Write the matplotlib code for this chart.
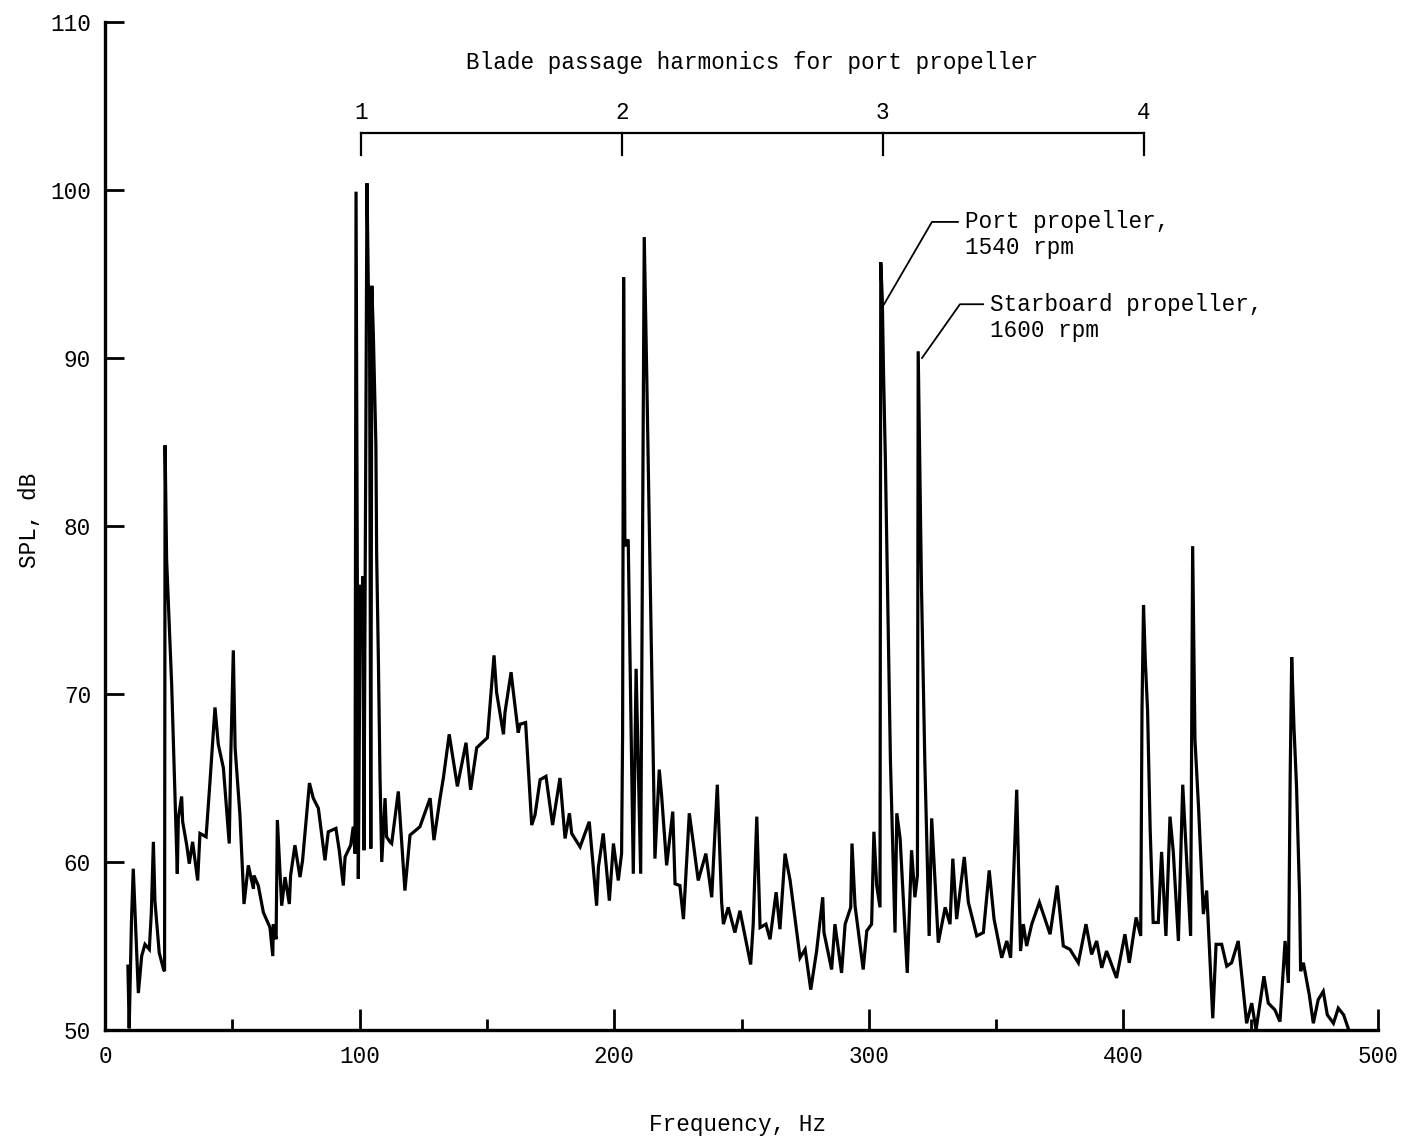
import matplotlib
matplotlib.use("Agg")
import matplotlib.pyplot as plt
from matplotlib.ticker import MultipleLocator

plt.rcParams['font.family'] = ['Liberation Mono', 'DejaVu Sans Mono']

# Frequency (Hz) and SPL (dB)
freq = [9.0, 9.5, 10.4, 11.1, 13.1, 14.4, 15.7, 17.4, 18.2, 19.0, 19.6, 21.3, 23.0, 23.4,
        23.6, 24.2, 26.2, 28.4, 28.8, 30.1, 30.5, 32.1, 33.1, 34.4, 36.4, 37.3, 39.7, 41.2,
        43.2, 44.5, 46.5, 48.8, 49.4, 50.4, 51.1, 53.0, 54.6, 56.3, 58.3, 58.5, 60.2, 62.2,
        64.8, 65.9, 66.1, 67.2, 67.7, 69.4, 70.7, 72.4, 72.9, 74.6, 76.6, 77.6, 80.3, 81.8,
        83.8, 86.4, 87.7, 90.7, 92.0, 93.6, 94.3, 96.5, 97.5, 98.2,
        98.6, 99.5, 100.3, 100.9, 101.3, 101.7, 102.9, 103.4, 103.9, 104.4, 104.8, 105.4,
        106.4, 106.7, 107.4, 108.0, 108.7,
        110.0, 110.6, 111.9, 112.6, 115.2, 117.8, 119.8, 123.7, 127.7, 129.2, 131.6, 132.9,
        135.2, 138.4, 141.8, 143.6, 146.0, 150.2, 152.8, 153.8, 156.5, 157.1, 159.5, 160.4,
        162.3, 163.0, 165.2, 167.6, 168.9, 170.9, 173.2, 175.8, 178.7, 180.7, 182.4, 183.3,
        186.6, 190.2, 193.1, 193.8, 195.7, 198.1, 199.7, 201.6, 202.9,
        203.3, 203.7, 204.2, 205.5, 207.5, 208.6, 210.4, 211.8, 212.8, 216.0, 217.7, 218.6,
        220.6, 223.0, 223.9, 225.8, 227.2, 229.5, 231.1, 233.0, 236.0, 238.3, 240.5, 242.2,
        242.9, 244.8, 247.4, 249.4, 253.6, 254.6, 256.0, 257.3, 259.6, 261.2, 263.6, 265.1,
        267.1, 269.1, 273.0, 275.0, 277.2, 279.5, 281.9, 282.4, 285.4, 286.7, 289.3, 290.7,
        292.9, 293.4, 294.6, 297.8, 299.2, 301.1, 302.0, 303.1, 304.4,
        304.7, 305.3, 305.8, 306.5, 307.5, 308.5, 309.2, 310.3, 311.0, 312.3, 315.1, 316.8,
        318.1, 319.1,
        319.4, 320.0, 320.7, 322.0, 323.7, 324.7, 327.3, 330.0, 331.9, 333.0, 334.5, 337.5,
        339.1, 342.4,
        345.0, 347.3, 349.2, 352.2, 354.2, 355.7, 358.1, 359.6, 360.7, 362.0, 364.0, 367.0,
        371.2, 374.0, 376.4, 379.0, 382.3, 385.3, 387.5, 389.5, 391.5, 393.4, 397.3, 400.6,
        402.3, 405.0, 406.8,
        407.3, 407.9, 408.6, 409.5, 410.5, 411.7, 413.7, 415.0, 416.7, 418.3, 419.6, 421.6,
        423.3, 424.6, 426.4, 427.2, 428.1, 429.5, 431.4, 432.7, 435.1, 436.4, 438.6, 440.6,
        442.5, 445.1, 448.4, 450.4, 452.1, 455.2, 456.9, 459.5, 461.5, 463.5, 464.8,
        465.5, 466.1, 467.0, 468.0, 469.2, 469.6, 470.7, 473.0, 474.6, 476.5, 478.5, 480.1,
        482.5, 484.4, 486.5, 488.3]

spl = [53.8, 50.1, 56.5, 59.6, 52.2, 54.4, 55.1, 54.8, 57.0, 61.2, 57.7, 54.6, 53.6, 53.5,
       84.8, 78.0, 70.5, 59.3, 62.6, 63.9, 62.4, 61.0, 59.9, 61.2, 58.9, 61.7, 61.5, 64.7,
       69.2, 67.0, 65.6, 61.1, 66.3, 72.6, 66.8, 62.8, 57.5, 59.8, 58.4, 59.2, 58.6, 57.0,
       56.1, 54.4, 56.3, 55.4, 62.5, 57.4, 59.1, 57.5, 59.2, 61.0, 59.1, 60.1, 64.7, 63.8,
       63.2, 60.1, 61.8, 62.0, 60.7, 58.6, 60.3, 61.0, 62.1, 60.5,
       99.9, 59.0, 76.5, 73.0, 77.0, 60.7, 100.4, 94.5, 93.0, 60.8, 94.3, 91.4,
       84.8, 78.3, 71.8, 65.2, 60.0,
       63.8, 61.5, 61.2, 61.1, 64.2, 58.3, 61.6, 62.1, 63.8, 61.3, 63.8, 65.0,
       67.6, 64.5, 67.1, 64.3, 66.8, 67.4, 72.3, 70.1, 67.6, 68.9, 71.3, 70.1,
       67.7, 68.2, 68.3, 62.2, 62.8, 64.9, 65.1, 62.2, 65.0, 61.4, 62.9, 61.7,
       60.9, 62.4, 57.4, 59.7, 61.7, 57.7, 61.1, 58.9, 60.5,
       67.6, 94.8, 78.8, 79.2, 59.3, 71.5, 59.3, 97.2, 88.8, 60.2, 65.5, 64.0,
       59.8, 63.0, 58.7, 58.6, 56.6, 62.9, 61.1, 58.9, 60.5, 57.9, 64.6, 57.6,
       56.3, 57.3, 55.8, 57.1, 53.9, 56.3, 62.7, 56.1, 56.3, 55.4, 58.2, 56.0,
       60.5, 58.9, 54.3, 54.8, 52.4, 54.7, 57.9, 55.8, 53.6, 56.3, 53.4, 56.3,
       57.3, 61.1, 57.4, 53.6, 55.9, 56.3, 61.8, 58.6, 57.3,
       95.7, 93.5, 89.0, 84.0, 75.0, 66.0, 62.1, 55.8, 62.9, 61.4, 53.4, 60.7,
       57.9, 59.2,
       90.4, 84.0, 76.3, 66.0, 55.6, 62.6, 55.2, 57.3, 56.3, 60.2, 56.6, 60.3,
       57.6, 55.6,
       55.8, 59.5, 56.6, 54.3, 55.3, 54.3, 64.3, 54.7, 56.3, 55.0, 56.3, 57.6,
       55.7, 58.6, 55.0, 54.8, 54.0, 56.3, 54.5, 55.3, 53.7, 54.7, 53.1, 55.7,
       54.0, 56.7, 55.6,
       69.0, 75.3, 72.0, 69.0, 62.0, 56.4, 56.4, 60.6, 55.6, 62.7, 60.6, 55.3,
       64.6, 60.8, 55.6, 78.8, 67.3, 63.3, 56.9, 58.3, 50.7, 55.1, 55.1, 53.8,
       54.0, 55.3, 50.4, 51.6, 50.0, 53.2, 51.6, 51.2, 50.5, 55.3, 52.8,
       65.0, 72.2, 68.0, 64.5, 58.0, 53.5, 54.0, 52.1, 50.4, 51.8, 52.3, 50.9,
       50.4, 51.3, 50.9, 50.1]

harmonics = [100.5, 203.0, 305.5, 408.0]
harmonic_labels = ["1", "2", "3", "4"]

W, H = 1404, 1139
fig = plt.figure(figsize=(W / 100, H / 100), dpi=100)
ax = fig.add_axes([105 / W, 1 - 1030 / H, 1273 / W, 1008 / H])

ax.plot(freq, spl, color="black", linewidth=2.3, solid_joinstyle="miter")

ax.set_xlim(0, 500)
ax.set_ylim(50, 110)
ax.spines["top"].set_visible(False)
ax.spines["right"].set_visible(False)
for s in ("left", "bottom"):
    ax.spines[s].set_linewidth(2.4)

FS = 16.3
ax.xaxis.set_major_locator(MultipleLocator(100))
ax.xaxis.set_minor_locator(MultipleLocator(50))
ax.yaxis.set_major_locator(MultipleLocator(10))
ax.tick_params(axis="x", which="major", direction="in", length=15, width=2.0,
               labelsize=FS, pad=11)
ax.tick_params(axis="x", which="minor", direction="in", length=8, width=2.0)
ax.tick_params(axis="y", which="major", direction="in", length=14, width=2.0,
               labelsize=FS, pad=10)

fig.text(738 / W, 1 - 1124 / H, "Frequency, Hz", ha="center", va="center", fontsize=FS)
fig.text(30 / W, 1 - 520 / H, "SPL, dB", ha="center", va="center", rotation=90,
         fontsize=FS)

# Harmonic bracket
ax.plot([harmonics[0], harmonics[-1]], [103.4, 103.4], color="black", linewidth=1.6)
for h, lab in zip(harmonics, harmonic_labels):
    ax.plot([h, h], [102.1, 103.4], color="black", linewidth=1.6)
    ax.text(h, 104.6, lab, ha="center", va="center", fontsize=FS)
ax.text(254.1, 107.6, "Blade passage harmonics for port propeller",
        ha="center", va="center", fontsize=FS)

# Annotations
ax.plot([306.0, 324.8, 335.0], [93.2, 98.1, 98.1], color="black", linewidth=1.3)
ax.text(337.8, 98.1, "Port propeller,", ha="left", va="center", fontsize=FS)
ax.text(337.8, 96.55, "1540 rpm", ha="left", va="center", fontsize=FS)
ax.plot([320.9, 335.8, 344.9], [90.0, 93.2, 93.2], color="black", linewidth=1.3)
ax.text(347.6, 93.2, "Starboard propeller,", ha="left", va="center", fontsize=FS)
ax.text(347.6, 91.65, "1600 rpm", ha="left", va="center", fontsize=FS)

fig.savefig("out.png", dpi=100)
